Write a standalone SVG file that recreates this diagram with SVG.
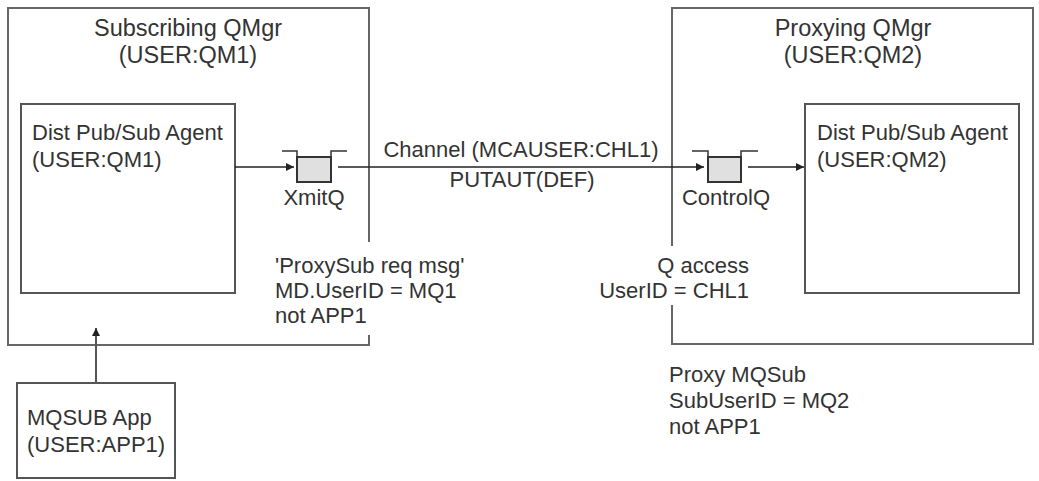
<svg xmlns="http://www.w3.org/2000/svg" width="1039" height="481" viewBox="0 0 1039 481">
<style>
  text { font-family: "Liberation Sans", Arial, Helvetica, sans-serif; font-size: 22px; fill: #333; }
  .title { font-size: 23.5px; text-anchor: middle; }
  .mid { text-anchor: middle; }
  .end { text-anchor: end; }
  .frame { fill: none; stroke: #666; stroke-width: 2; }
  .box { fill: #fff; stroke: #555; stroke-width: 2; }
  .qfill { fill: #e0e0e0; stroke: #333; stroke-width: 2; }
  .qline { fill: none; stroke: #333; stroke-width: 1.5; }
  .conn { fill: none; stroke: #222; stroke-width: 1.5; }
  .conn2 { fill: none; stroke: #555; stroke-width: 2; }
</style>
<defs>
  <marker id="arr" viewBox="0 0 10 10" refX="10" refY="5" markerWidth="8" markerHeight="8" markerUnits="userSpaceOnUse" orient="auto">
    <path d="M0,0 L10,5 L0,10 z" fill="#222"/>
  </marker>
</defs>
<rect width="1039" height="481" fill="#fff"/>

<g id="subscribing-qmgr">
  <path class="frame" d="M369,242 V8 H8 V345 H369 V335"/>
  <text class="title" x="188" y="36">Subscribing QMgr</text>
  <text class="title" x="188" y="63">(USER:QM1)</text>
</g>

<g id="agent-qm1">
  <rect class="box" x="21" y="104" width="214" height="189"/>
  <text x="32" y="140">Dist Pub/Sub Agent</text>
  <text x="32" y="167">(USER:QM1)</text>
</g>

<g id="xmitq">
  <rect class="qfill" x="297" y="157" width="34" height="25"/>
  <path class="qline" d="M282,151 H297 V182 M331,182 V151 H347"/>
  <text class="mid" x="314" y="205">XmitQ</text>
</g>

<g id="proxying-qmgr">
  <path class="frame" d="M672,246 V8 H1033 V344 H672 V305"/>
  <text class="title" x="853" y="36">Proxying QMgr</text>
  <text class="title" x="853" y="63">(USER:QM2)</text>
</g>

<g id="controlq">
  <rect class="qfill" x="708" y="157" width="33" height="25"/>
  <path class="qline" d="M692,151 H708 V182 M741,182 V151 H758"/>
  <text class="mid" x="726" y="205">ControlQ</text>
</g>

<g id="agent-qm2">
  <rect class="box" x="805" y="104" width="214" height="189"/>
  <text x="817" y="140">Dist Pub/Sub Agent</text>
  <text x="817" y="167">(USER:QM2)</text>
</g>

<g id="mqsub-app">
  <rect class="box" x="17" y="383" width="158" height="95"/>
  <text x="27" y="425">MQSUB App</text>
  <text x="27" y="452">(USER:APP1)</text>
</g>

<g id="connectors">
  <line class="conn" x1="235" y1="167" x2="294" y2="167" marker-end="url(#arr)"/>
  <line class="conn" x1="338" y1="167" x2="704" y2="167" marker-end="url(#arr)"/>
  <line class="conn" x1="748" y1="167" x2="804" y2="167" marker-end="url(#arr)"/>
  <line class="conn2" x1="96" y1="383" x2="96" y2="328" marker-end="url(#arr)"/>
  <text class="mid" x="521" y="157">Channel (MCAUSER:CHL1)</text>
  <text class="mid" x="522" y="187">PUTAUT(DEF)</text>
</g>

<g id="labels">
  <text x="275" y="273">'ProxySub req msg'</text>
  <text x="275" y="298">MD.UserID = MQ1</text>
  <text x="275" y="323">not APP1</text>
  <text class="end" x="749" y="273">Q access</text>
  <text class="end" x="749" y="298">UserID = CHL1</text>
  <text x="669" y="382">Proxy MQSub</text>
  <text x="669" y="408">SubUserID = MQ2</text>
  <text x="669" y="434">not APP1</text>
</g>
</svg>
